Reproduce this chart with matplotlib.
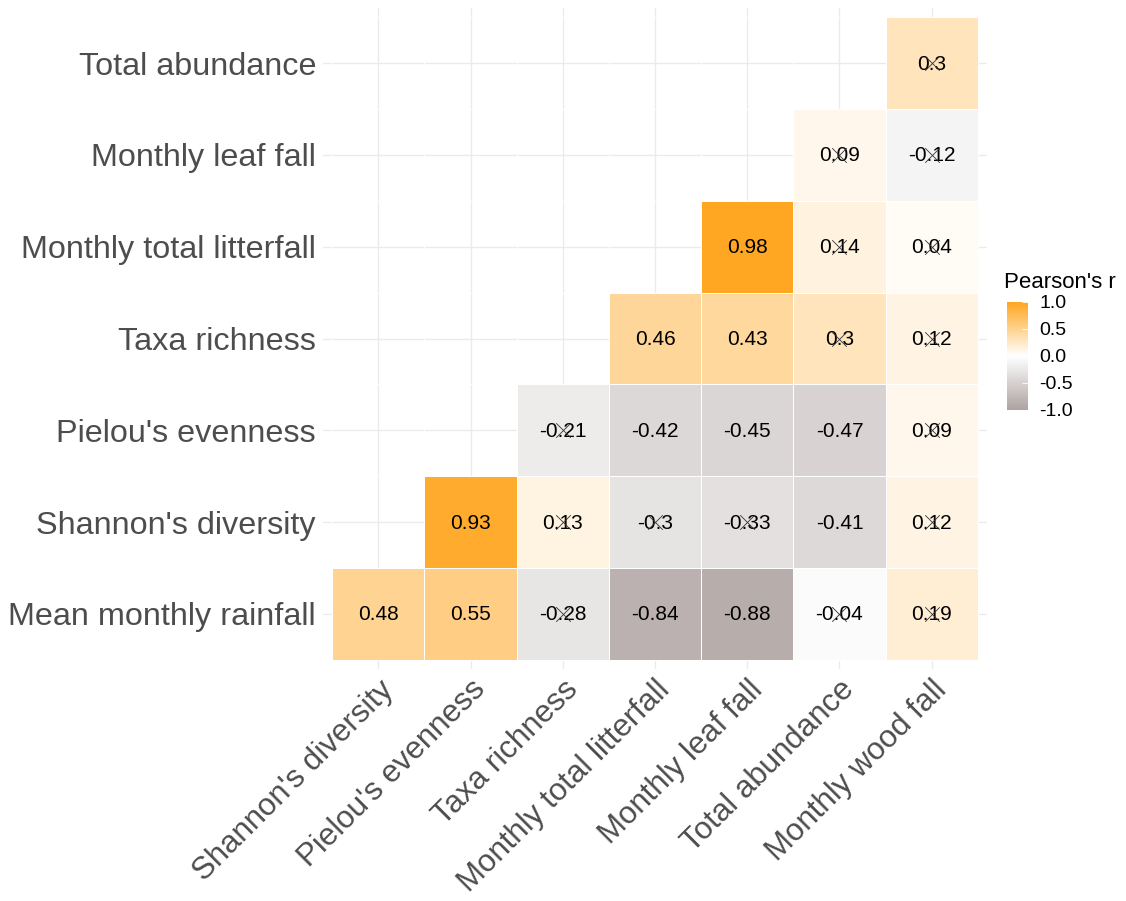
"""Lower-triangle correlation heatmap (ggcorrplot style)."""

import numpy as np
import matplotlib.pyplot as plt
from matplotlib.colors import LinearSegmentedColormap

plt.rcParams['font.family'] = ['Liberation Sans', 'DejaVu Sans']

# x axis (columns, left to right) and y axis (rows, bottom to top)
col_labels = ["Shannon's diversity", "Pielou's evenness", "Taxa richness",
              "Monthly total litterfall", "Monthly leaf fall",
              "Total abundance", "Monthly wood fall"]
row_labels = ["Mean monthly rainfall", "Shannon's diversity", "Pielou's evenness",
              "Taxa richness", "Monthly total litterfall", "Monthly leaf fall",
              "Total abundance"]

# correlations per row (NaN = hidden upper triangle)
nan = np.nan
r_rainfall = [0.48, 0.55, -0.28, -0.84, -0.88, -0.04, 0.19]
r_shannon = [nan, 0.93, 0.13, -0.30, -0.33, -0.41, 0.12]
r_pielou = [nan, nan, -0.21, -0.42, -0.45, -0.47, 0.09]
r_taxa = [nan, nan, nan, 0.46, 0.43, 0.30, 0.12]
r_litter = [nan, nan, nan, nan, 0.98, 0.14, 0.04]
r_leaf = [nan, nan, nan, nan, nan, 0.09, -0.12]
r_abund = [nan, nan, nan, nan, nan, nan, 0.30]

# non-significant cells (crossed out)
ns_rainfall = [0, 0, 1, 0, 0, 1, 1]
ns_shannon = [0, 0, 1, 1, 1, 0, 1]
ns_pielou = [0, 0, 1, 0, 0, 0, 1]
ns_taxa = [0, 0, 0, 0, 0, 1, 1]
ns_litter = [0, 0, 0, 0, 0, 1, 1]
ns_leaf = [0, 0, 0, 0, 0, 1, 1]
ns_abund = [0, 0, 0, 0, 0, 0, 1]

R = np.array([r_rainfall, r_shannon, r_pielou, r_taxa, r_litter, r_leaf, r_abund])
NS = np.array([ns_rainfall, ns_shannon, ns_pielou, ns_taxa, ns_litter, ns_leaf, ns_abund])

cmap = LinearSegmentedColormap.from_list(
    "corr", ["#ADA3A1", "#FFFFFF", "#FFA620"])

fig = plt.figure(figsize=(11.26, 9.01), dpi=100)
ax = fig.add_axes([323 / 1126, 1 - 669 / 901, 664 / 1126, 661 / 901])

ncol, nrow = len(col_labels), len(row_labels)
ax.set_xlim(-0.6, ncol - 0.4)
ax.set_ylim(-0.6, nrow - 0.4)

# grid under the tiles
for i in range(ncol):
    ax.axvline(i, color='#EBEBEB', lw=1.0, zorder=0)
for j in range(nrow):
    ax.axhline(j, color='#EBEBEB', lw=1.0, zorder=0)

masked = np.ma.masked_invalid(R)
xe = np.arange(ncol + 1) - 0.5
ye = np.arange(nrow + 1) - 0.5
mesh = ax.pcolormesh(xe, ye, masked, cmap=cmap, vmin=-1, vmax=1,
                     edgecolor='white', linewidth=0.5, zorder=1)

for j in range(nrow):
    for i in range(ncol):
        v = R[j, i]
        if np.isnan(v):
            continue
        txt = f"{v:.2f}".rstrip('0').rstrip('.') if abs(v) >= 0.1 else f"{v:.2f}"
        ax.text(i, j - 0.01, txt, ha='center', va='center', fontsize=15,
                color='black', zorder=3)
        if NS[j, i]:
            ax.scatter(i, j, marker='x', s=110, linewidths=0.6,
                       color='#333333', zorder=4)

ax.set_xticks(range(ncol))
ax.set_xticklabels(col_labels, rotation=45, ha='right', va='top',
                   rotation_mode='anchor', fontsize=22.5, color='#4D4D4D')
ax.set_yticks(range(nrow))
ax.set_yticklabels(row_labels, fontsize=23.3, color='#4D4D4D')
ax.tick_params(length=0, pad=5)
ax.tick_params(axis='x', pad=4)
for s in ax.spines.values():
    s.set_visible(False)

# legend
cax = fig.add_axes([1007 / 1126, 1 - 410 / 901, 21 / 1126, 108 / 901])
cb = fig.colorbar(mesh, cax=cax, ticks=[-1, -0.5, 0, 0.5, 1])
cb.outline.set_visible(False)
cb.ax.set_yticklabels(['-1.0', '-0.5', '0.0', '0.5', '1.0'])
cb.ax.tick_params(length=4, width=0.6, color='white', direction='in',
                  labelsize=14, labelcolor='black', pad=8)
fig.text(1004 / 1126, 1 - 282 / 901, "Pearson's r", fontsize=16,
         ha='left', va='center')

fig.savefig('out.png', dpi=100)
